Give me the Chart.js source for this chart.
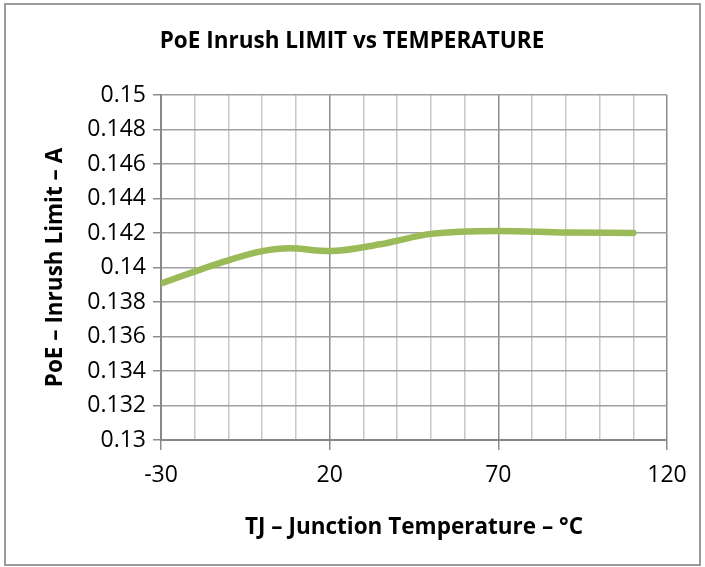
<!DOCTYPE html>
<html>
<head>
<meta charset="utf-8">
<script src="https://cdn.jsdelivr.net/npm/chart.js@4"></script>
<style>
  html, body { margin: 0; padding: 0; background: #fff; }
  #wrap { width: 705px; height: 567px; }
</style>
</head>
<body>
<div id="wrap"><canvas id="chart" width="705" height="567"></canvas></div>
<script>
// Junction temperature (°C) and inrush limit (A)
const temps  = [-30, -12, 0, 8, 20, 35, 50, 70, 90, 110];
const limits = [0.13907, 0.14030, 0.14095, 0.14112, 0.14095, 0.14135, 0.14195, 0.14212, 0.14203, 0.14200];

const majorTicks = [-30, 20, 70, 120];

const title = 'PoE Inrush LIMIT vs TEMPERATURE';
const xTitle = 'TJ \u2013 Junction Temperature \u2013 \u00b0C';
const yTitle = 'PoE \u2013 Inrush Limit \u2013 A';

const FONT = "'Open Sans', sans-serif";

// outer frame + title centred on the whole picture (Excel style)
const framePlugin = {
  id: 'frame',
  beforeDraw(chart){
    const c = chart.ctx;
    c.save();
    c.fillStyle = '#fff';
    c.fillRect(0, 0, chart.width, chart.height);
    c.strokeStyle = '#9a9a9a';
    c.lineWidth = 2;
    c.strokeRect(5, 4, 695, 561);
    c.restore();
  },
  afterDraw(chart){
    const c = chart.ctx;
    c.save();
    c.fillStyle = '#000';
    c.font = 'bold 22.5px ' + FONT;
    c.textAlign = 'center';
    c.textBaseline = 'middle';
    c.fillText(title, 352, 42);
    c.restore();
  }
};

new Chart(document.getElementById('chart'), {
  type: 'line',
  data: {
    datasets: [{
      data: temps.map((t, i) => ({ x: t, y: limits[i] })),
      borderColor: '#9bbb59',
      borderWidth: 6.5,
      pointRadius: 0,
      cubicInterpolationMode: 'monotone',
      borderCapStyle: 'round',
      fill: false
    }]
  },
  options: {
    responsive: false,
    animation: false,
    layout: { padding: { top: 95, left: 6, right: 38, bottom: 0 } },
    plugins: {
      legend: { display: false },
      tooltip: { enabled: false },
      title: { display: false }
    },
    scales: {
      x: {
        type: 'linear',
        min: -30, max: 120,
        afterFit: s => { s.height = 127; },
        border: { color: '#888', width: 2 },
        grid: {
          color: ctx => majorTicks.includes(ctx.tick.value) ? '#8c8c8c' : '#c8c8c8',
          lineWidth: 1.5,
          drawTicks: true,
          tickLength: 10,
          tickColor: ctx => majorTicks.includes(ctx.tick.value) ? '#8c8c8c' : 'rgba(0,0,0,0)'
        },
        ticks: {
          stepSize: 10,
          autoSkip: false,
          maxRotation: 0,
          color: '#000',
          padding: 12,
          font: { family: FONT, size: 23 },
          callback: v => majorTicks.includes(v) ? String(v) : ''
        },
        title: {
          display: true,
          text: xTitle,
          color: '#000',
          font: { family: FONT, size: 22.5, weight: 'bold' },
          padding: { top: 0, bottom: 26 }
        }
      },
      y: {
        min: 0.13, max: 0.15,
        afterFit: s => { s.width = 155; },
        border: { color: '#888', width: 2 },
        grid: {
          color: '#a0a0a0',
          lineWidth: 1.5,
          tickLength: 8,
          tickColor: '#8c8c8c'
        },
        ticks: {
          stepSize: 0.002,
          color: '#000',
          padding: 7,
          font: { family: FONT, size: 23 },
          callback: v => String(parseFloat(v.toFixed(3)))
        },
        title: {
          display: true,
          text: yTitle,
          color: '#000',
          font: { family: FONT, size: 22.5, weight: 'bold' },
          padding: { top: 36, bottom: 0 }
        }
      }
    }
  },
  plugins: [framePlugin]
});
</script>
</body>
</html>
